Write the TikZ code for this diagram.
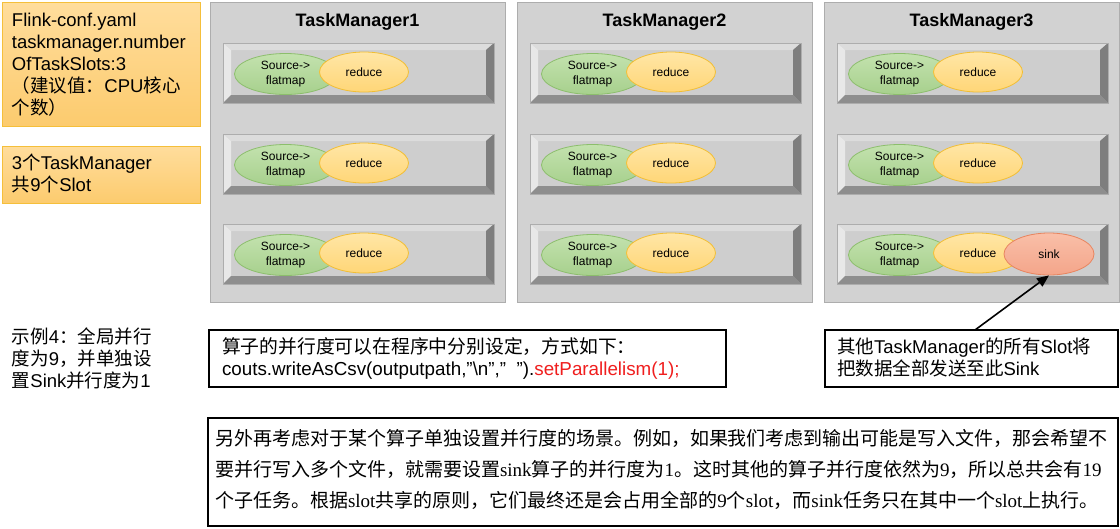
\documentclass[tikz,border=0pt]{standalone}
\usepackage{fontspec}
\setmainfont{Liberation Sans}
\newfontfamily\cjk{Noto Sans CJK SC}
\newfontfamily\serifrm{Liberation Serif}
\usetikzlibrary{shapes.geometric,arrows.meta,calc}
\newcommand\zh[1]{{\cjk #1}}
\newcommand\fstrut{\rule{0pt}{17pt}}
\definecolor{orTop}{HTML}{FFDD9C}
\definecolor{orBot}{HTML}{FCCB6E}
\definecolor{orLine}{HTML}{F5BF3A}
\definecolor{tmFill}{HTML}{D2D2D2}
\definecolor{tmLine}{HTML}{ADADAD}
\definecolor{slFace}{HTML}{CECECE}
\definecolor{slTop}{HTML}{DCDCDC}
\definecolor{slLeft}{HTML}{E8E8E8}
\definecolor{slBot}{HTML}{8E8E8E}
\definecolor{slRight}{HTML}{7E7E7E}
\definecolor{grTop}{HTML}{C3E2AE}
\definecolor{grBot}{HTML}{A7D08D}
\definecolor{grLine}{HTML}{8CBE6C}
\definecolor{yeTop}{HTML}{FFE6A6}
\definecolor{yeBot}{HTML}{FFD677}
\definecolor{yeLine}{HTML}{F2BE33}
\definecolor{skTop}{HTML}{F9BFA8}
\definecolor{skBot}{HTML}{F4A58A}
\definecolor{skLine}{HTML}{E8845E}
\definecolor{codeRed}{HTML}{F01E1E}
\newcommand\bevel[1]{%
 \fill[slTop] (#1.north west) -- (#1.north east) -- ($(#1.north east)+(-8,7)$) -- ($(#1.north west)+(8,7)$) -- cycle;
 \fill[slLeft] (#1.north west) -- ($(#1.north west)+(8,7)$) -- ($(#1.south west)+(8,-8)$) -- (#1.south west) -- cycle;
 \fill[slBot] (#1.south west) -- ($(#1.south west)+(8,-8)$) -- ($(#1.south east)+(-8,-8)$) -- (#1.south east) -- cycle;
 \fill[slRight] (#1.north east) -- ($(#1.north east)+(-8,7)$) -- ($(#1.south east)+(-8,-8)$) -- (#1.south east) -- cycle;
 \draw[tmLine, line width=0.8pt] (#1.north west) rectangle (#1.south east);
}
\begin{document}
\begin{tikzpicture}[x=1pt,y=-1pt,
  obox/.style={draw=orLine, line width=1pt, top color=orTop, bottom color=orBot, inner sep=0pt, outer sep=0pt, anchor=north west},
  txt/.style={inner sep=0pt, outer sep=0pt, anchor=north west, align=left, font=\fontsize{18.5}{22}\selectfont},
  tmbox/.style={draw=tmLine, line width=1pt, fill=tmFill, inner sep=0pt, outer sep=0pt, minimum width=295pt, minimum height=300pt},
  tmtitle/.style={inner sep=0pt, font=\bfseries\fontsize{18}{22}\selectfont},
  slotbox/.style={fill=slFace, inner sep=0pt, outer sep=0pt, minimum width=271pt, minimum height=60pt},
  opel/.style={ellipse, inner sep=0pt, line width=0.8pt, font=\fontsize{12}{15}\selectfont, align=center},
  srcell/.style={opel, draw=grLine, top color=grTop, bottom color=grBot, minimum width=102pt, minimum height=41pt},
  redell/.style={opel, draw=yeLine, top color=yeTop, bottom color=yeBot, minimum width=89pt, minimum height=40pt},
  sinkell/.style={opel, draw=skLine, top color=skTop, bottom color=skBot, minimum width=90pt, minimum height=42pt},
  blkbox/.style={draw=black, line width=1.3pt, fill=white, inner sep=0pt, outer sep=0pt, anchor=north west},
  arrowline/.style={draw=black, line width=1.6pt, -{Triangle[length=12pt,width=10pt]}}
]
\useasboundingbox (0,0) rectangle (1120,528);
\fill[white] (0,0) rectangle (1120,528);

% left orange boxes
\node[obox, minimum width=198pt, minimum height=124pt] (conf) at (2,2) {};
\node[txt] (conftxt) at (12,9.5) {\fstrut Flink-conf.yaml\\taskmanager.number\\OfTaskSlots:3\\\zh{（建议值：}CPU\zh{核心}\\\zh{个数）}};
\node[obox, minimum width=198pt, minimum height=57pt] (count) at (2,146) {};
\node[txt] (counttxt) at (12,152) {\fstrut 3\zh{个}TaskManager\\\zh{共}9\zh{个}Slot};

% task managers
\foreach \i in {1,2,3} {
  \pgfmathsetmacro\cx{357.5+307*(\i-1)}
  \node[tmbox] (tm\i) at (\cx,152) {};
  \node[tmtitle, anchor=base] (tmt\i) at (\cx,26.5) {TaskManager\i};
  \foreach \j/\yy in {1/73,2/164,3/254} {
    \node[slotbox] (s\i\j) at (\cx+1,\yy) {};
    \bevel{s\i\j}
    \node[srcell] (src\i\j) at ($(s\i\j.center)+(-73,1)$) {Source->\\flatmap};
    \node[redell] (red\i\j) at ($(s\i\j.center)+(5.5,-1)$) {reduce};
  }
}
\node[sinkell] (sink) at ($(s33.center)+(76.5,0)$) {sink};

% left lower text
\node[txt] (example) at (12,326) {\fstrut\zh{示例}4\zh{：全局并行}\\\zh{度为}9\zh{，并单独设}\\\zh{置}Sink\zh{并行度为}1};

% code box
\node[blkbox, minimum width=517pt, minimum height=57pt] (code) at (209,330) {};
\node[txt, font=\fontsize{18.8}{22}\selectfont] (codetxt) at (222,336) {\fstrut\zh{算子的并行度可以在程序中分别设定，方式如下：}\\couts.writeAsCsv(outputpath,”\textbackslash n”,”\ \ ”).\textcolor{codeRed}{setParallelism(1);}};

% sink note box
\node[blkbox, minimum width=293pt, minimum height=57pt] (sinkbox) at (825,330) {};
\node[txt] (sinktxt) at (837,336) {\fstrut\zh{其他}TaskManager\zh{的所有}Slot\zh{将}\\\zh{把数据全部发送至此}Sink};
\draw[arrowline] ($(sinkbox.north)+(3.5,0)$) -- (sink.south);

% bottom explanation box
\node[blkbox, minimum width=910pt, minimum height=108pt] (note) at (208,418) {};
\node[txt, font=\serifrm\fontsize{19}{31}\selectfont] (notetxt) at (215,428) {\rule{0pt}{17pt}\zh{另外再考虑对于某个算子单独设置并行度的场景。例如，如果我们考虑到输出可能是写入文件，那会希望不}\\\zh{要并行写入多个文件，就需要设置}sink\zh{算子的并行度为}1\zh{。这时其他的算子并行度依然为}9\zh{，所以总共会有}19\\\zh{个子任务。根据}slot\zh{共享的原则，它们最终还是会占用全部的}9\zh{个}slot\zh{，而}sink\zh{任务只在其中一个}slot\zh{上执行。}};
\end{tikzpicture}
\end{document}
